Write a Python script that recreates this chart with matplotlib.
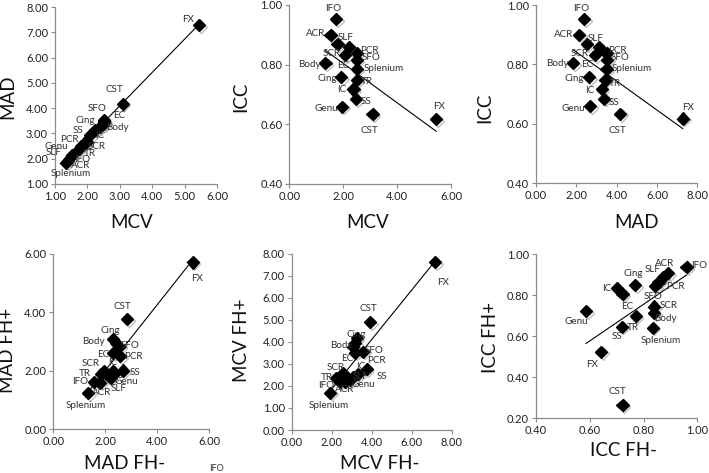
import numpy as np
import matplotlib
matplotlib.use("Agg")
import matplotlib.pyplot as plt
import matplotlib.patheffects as pe

plt.rcParams['font.family'] = ['Lato', 'DejaVu Sans']

# ---------------- data ----------------
tracts = ["IFO", "ACR", "SCR", "SLF", "EC", "PCR", "SFO", "Body", "Splenium",
          "Cing", "TR", "IC", "SS", "Genu", "CST", "FX"]
mcv = [1.73, 1.53, 1.79, 2.23, 2.08, 2.50, 2.50, 1.34, 2.50, 1.92, 2.50, 2.38, 2.48, 1.97, 3.09, 5.45]
mad = [2.38, 2.13, 2.51, 3.14, 2.93, 3.50, 3.54, 1.85, 3.50, 2.64, 3.45, 3.26, 3.37, 2.68, 4.18, 7.28]
icc = [0.952, 0.900, 0.868, 0.858, 0.832, 0.838, 0.816, 0.805, 0.785, 0.758, 0.749, 0.717, 0.685, 0.659, 0.634, 0.618]

mad_fhm = [1.55, 1.80, 1.95, 2.20, 2.31, 2.56, 2.54, 2.40, 1.35, 2.31, 1.85, 2.30, 2.69, 2.35, 2.85, 5.36]
mad_fhp = [1.62, 1.60, 1.98, 1.75, 2.60, 2.51, 2.83, 2.95, 1.23, 3.08, 1.90, 2.00, 2.01, 1.90, 3.77, 5.71]

mcv_fhm = [2.42, 2.67, 2.58, 3.08, 3.17, 3.08, 3.58, 3.17, 1.92, 3.25, 2.22, 3.33, 3.75, 2.92, 3.92, 7.17]
mcv_fhp = [2.20, 2.20, 2.58, 2.42, 3.52, 3.79, 3.56, 3.94, 1.70, 4.17, 2.35, 2.55, 2.76, 2.27, 4.91, 7.62]

icc_fhm = [0.960, 0.892, 0.840, 0.871, 0.722, 0.856, 0.843, 0.840, 0.834, 0.768, 0.771, 0.700, 0.719, 0.586, 0.722, 0.642]
icc_fhp = [0.935, 0.906, 0.744, 0.886, 0.804, 0.865, 0.844, 0.711, 0.641, 0.849, 0.698, 0.833, 0.646, 0.722, 0.265, 0.524]

# ---------------- label offsets (pixels) ----------------
off1 = {"FX": (-11, 6), "CST": (-8, 14), "SFO": (-6, 11), "EC": (29, 20), "Cing": (0, 22),
        "Body": (51, 35), "SS": (-25, -6), "IC": (0, -9), "PCR": (-34, -19), "SCR": (16, -1),
        "Genu": (-30, -5), "TR": (-14, -31), "SLF": (-41, -23), "IFO": (4, -10), "ACR": (8, -10),
        "Splenium": (-33, -53)}
off2 = {"IFO": (-3, 11), "ACR": (-15, 1), "SCR": (-6, -9), "SLF": (-4, 10), "EC": (-2, -10),
        "PCR": (13, 3), "SFO": (14, 2), "Body": (-16, -1), "Splenium": (27, 1), "Cing": (-14, -1),
        "TR": (10, -2), "IC": (-12, 0), "SS": (10, -3), "Genu": (-16, -2), "CST": (-3, -16),
        "FX": (3, 12)}
off3 = {"IFO": (-3, 11), "ACR": (-15, 0), "SCR": (-7, -9), "SLF": (-4, 9), "EC": (-8, -10),
        "PCR": (11, 3), "SFO": (13, 2), "Body": (-16, -1), "Splenium": (25, 0), "Cing": (-15, -2),
        "TR": (9, -4), "IC": (-12, -1), "SS": (10, -4), "Genu": (-17, -2), "CST": (-3, -17),
        "FX": (5, 11)}
off4 = {"FX": (4, -16), "CST": (-5, 13), "Cing": (-3, 9), "Body": (-22, 2), "SFO": (11, 1),
        "EC": (-10, -1), "PCR": (14, -1), "IC": (0, 8), "SS": (12, -2), "Genu": (12, -8),
        "SLF": (8, -10), "ACR": (2, -10), "IFO": (-13, 0), "TR": (-17, 0), "SCR": (-13, 8),
        "Splenium": (-3, -12)}
off5 = {"FX": (8, -20), "CST": (-2, 13), "Cing": (0, 4), "Body": (-14, -2), "PCR": (23, -14),
        "EC": (-8, -6), "SFO": (11, 1), "SS": (15, -7), "IC": (2, 7), "SCR": (-8, 6),
        "TR": (-9, 1), "IFO": (-14, -4), "ACR": (0, -8), "SLF": (7, 0), "Genu": (13, -4),
        "Splenium": (-1, -13)}
off6 = {"IFO": (13, 2), "ACR": (-4, 10), "SLF": (-10, 8), "PCR": (17, -5), "SFO": (-2, -10),
        "Cing": (-2, 12), "IC": (-10, 0), "EC": (5, -12), "SCR": (14, 1), "Body": (11, -5),
        "TR": (-3, -11), "SS": (-5, -10), "Splenium": (8, -13), "Genu": (-10, -10),
        "FX": (-9, -13), "CST": (-5, 13)}

W, H = 709, 473
fig = plt.figure(figsize=(W / 100, H / 100), dpi=100)

def ax_px(l, r, t, b):
    return fig.add_axes([l / W, 1 - b / H, (r - l) / W, (b - t) / H])

SPINE = "#8c8c8c"

def panel(ax, x, y, offs, xlim, xticks, ylim, yticks):
    x = np.asarray(x); y = np.asarray(y)
    k, c = np.polyfit(x, y, 1)
    xs = np.array([x.min(), x.max()])
    ax.plot(xs, k * xs + c, color="black", lw=0.8, zorder=2)
    ax.plot(x, y, linestyle="none", marker="D", ms=6.2, color="black", zorder=3,
            path_effects=[pe.SimpleLineShadow(offset=(1.2, -1.2), shadow_color="gray", alpha=0.5),
                          pe.Normal()])
    for name, xi, yi in zip(tracts, x, y):
        dx, dy = offs[name]
        ax.annotate(name, (xi, yi), xytext=(dx, dy), textcoords="offset pixels",
                    ha="center", va="center", fontsize=7.1, color="#303030", zorder=4)
    ax.set_xlim(*xlim); ax.set_ylim(*ylim)
    ax.set_xticks(xticks); ax.set_yticks(yticks)
    ax.set_xticklabels([f"{v:.2f}" for v in xticks])
    ax.set_yticklabels([f"{v:.2f}" for v in yticks])
    for s in ("top", "right"):
        ax.spines[s].set_visible(False)
    for s in ("left", "bottom"):
        ax.spines[s].set_color(SPINE)
        ax.spines[s].set_linewidth(0.9)
    ax.tick_params(direction="out", length=3, width=0.8, color=SPINE, labelsize=8,
                   labelcolor="#222222", pad=2)
    ax.patch.set_alpha(0)

ax1 = ax_px(55, 217, 7, 184)
panel(ax1, mcv, mad, off1, (1, 6), [1, 2, 3, 4, 5, 6], (1, 8), [1, 2, 3, 4, 5, 6, 7, 8])
ax2 = ax_px(289.3, 451, 5, 184)
panel(ax2, mcv, icc, off2, (0, 6), [0, 2, 4, 6], (0.4, 1.0), [0.4, 0.6, 0.8, 1.0])
ax3 = ax_px(536, 697.3, 5, 183.3)
panel(ax3, mad, icc, off3, (0, 8), [0, 2, 4, 6, 8], (0.4, 1.0), [0.4, 0.6, 0.8, 1.0])
ax4 = ax_px(53.3, 209.3, 254, 429.3)
panel(ax4, mad_fhm, mad_fhp, off4, (0, 6), [0, 2, 4, 6], (0, 6), [0, 2, 4, 6])
ax5 = ax_px(291.7, 451.7, 254, 430)
panel(ax5, mcv_fhm, mcv_fhp, off5, (0, 8), [0, 2, 4, 6, 8], (0, 8), [0, 1, 2, 3, 4, 5, 6, 7, 8])
ax6 = ax_px(536, 697.3, 254, 418.3)
panel(ax6, icc_fhm, icc_fhp, off6, (0.4, 1.0), [0.4, 0.6, 0.8, 1.0], (0.2, 1.0), [0.2, 0.4, 0.6, 0.8, 1.0])

def ftext(x, y, s, size=13.5, rot=0, color="#111111"):
    fig.text(x / W, 1 - y / H, s, ha="center", va="center", rotation=rot,
             fontsize=size, color=color)

ftext(132, 222, "MCV")
ftext(8, 97, "MAD", rot=90)
ftext(368, 222, "MCV")
ftext(241, 97, "ICC", rot=90)
ftext(637, 222, "MAD")
ftext(485, 108, "ICC", rot=90)
ftext(125, 463, "MAD FH-")
ftext(8, 350, "MAD FH+", rot=90)
ftext(380, 463, "MCV FH-")
ftext(241, 340, "MCV FH+", rot=90)
ftext(623, 450, "ICC FH-")
ftext(491, 337, "ICC FH+", rot=90)
ftext(216, 468, "IFO", size=6.5, color="#303030")

fig.savefig("out.png", dpi=100)
